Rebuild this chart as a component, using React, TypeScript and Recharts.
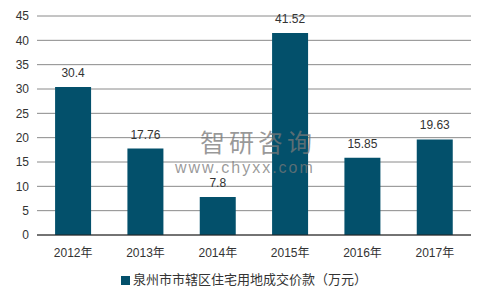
import { BarChart, Bar, XAxis, YAxis, CartesianGrid, LabelList } from 'recharts';

const years = ['2012年', '2013年', '2014年', '2015年', '2016年', '2017年'];
const values = [30.4, 17.76, 7.8, 41.52, 15.85, 19.63];
const yTicks = [0, 5, 10, 15, 20, 25, 30, 35, 40, 45];
const SERIES = '泉州市市辖区住宅用地成交价款（万元）';
const BAR_COLOR = '#03506b';

const data = years.map((year, i) => ({ year, value: values[i] }));

const FONT = '"Liberation Sans", Arial, "Noto Sans CJK SC", sans-serif';

export default function App() {
  return (
    <div style={{ position: 'relative', width: 488, height: 305, margin: -8, fontFamily: FONT, background: '#fff' }}>
      <div style={{ position: 'absolute', left: 5, top: 2, width: 479, height: 299, border: '1px solid #999' }} />
      <BarChart
        width={488}
        height={305}
        data={data}
        margin={{ top: 16, right: 17, bottom: 0, left: 0 }}
        barCategoryGap="25%"
        style={{ position: 'absolute', left: 0, top: 0 }}
      >
        <CartesianGrid vertical={false} stroke="#8a8a8a" />
        <XAxis
          dataKey="year"
          height={70}
          tickLine={false}
          axisLine={{ stroke: '#222' }}
          tickMargin={7}
          tick={{ fill: '#333', fontSize: 12, fontFamily: FONT }}
        />
        <YAxis
          width={37}
          domain={[0, 45]}
          ticks={yTicks}
          axisLine={false}
          tickLine={false}
          interval={0}
          tick={{ fill: '#333', fontSize: 12, fontFamily: FONT }}
        />
        <Bar dataKey="value" name={SERIES} fill={BAR_COLOR} isAnimationActive={false}>
          <LabelList dataKey="value" position="top" offset={10} fill="#333" fontSize={12} fontFamily={FONT} />
        </Bar>
      </BarChart>
      <div style={{ position: 'absolute', left: 0, width: 488, top: 271, display: 'flex', justifyContent: 'center', alignItems: 'center', fontSize: 13, color: '#333', lineHeight: '18px' }}>
        <span style={{ display: 'inline-block', width: 9, height: 9, background: BAR_COLOR, marginRight: 3 }} />
        <span>{SERIES}</span>
      </div>
      <div style={{ position: 'absolute', left: 200, top: 129, fontSize: 25, height: 24, color: 'rgba(120,120,120,0.75)', fontFamily: '"Noto Sans CJK SC", sans-serif', letterSpacing: 4, lineHeight: '24px' }}>
        智研咨询
      </div>
      <div style={{ position: 'absolute', left: 175, top: 160, fontSize: 16, height: 15, color: 'rgba(120,120,120,0.75)', fontFamily: FONT, letterSpacing: 2, lineHeight: '15px' }}>
        www.chyxx.com
      </div>
    </div>
  );
}
